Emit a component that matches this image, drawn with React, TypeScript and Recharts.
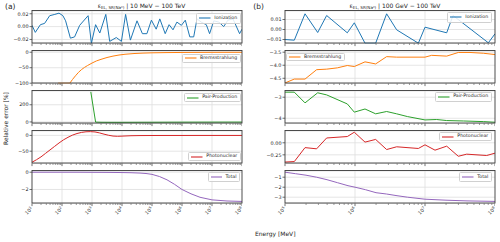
import React from 'react';
import { LineChart, Line, XAxis, YAxis, CartesianGrid, ReferenceLine } from 'recharts';

// x values are log10(Energy / MeV)
const ionA_x = [1.00,1.11,1.28,1.42,1.59,1.76,1.90,2.03,2.12,2.28,2.42,2.59,2.87,2.98,3.12,3.26,3.46,3.59,3.81,3.98,4.12,4.28,4.50,4.68,4.83,4.98,5.14,5.26,5.44,5.57,5.70,5.83,5.98,6.11,6.26,6.39,6.50,6.64,6.81,6.92,7.06,7.23,7.39,7.53,7.70,7.92,8.00];
const ionA_y = [0.002,-0.009,0.003,0.005,0.017,0.019,0.021,0.017,0.009,-0.018,-0.016,0.002,0.017,-0.026,0.003,-0.010,0.019,-0.023,-0.017,-0.023,0.019,-0.021,0.009,-0.011,-0.011,0.010,-0.004,0.012,-0.011,0.003,-0.005,0.007,0.002,0.010,-0.016,-0.016,0.012,0.007,0.003,-0.011,0.009,0.007,0.000,0.010,0.012,-0.011,-0.004];

const bremA_x = [1.87,2.0,2.13,2.26,2.35,2.45,2.55,2.65,2.75,2.85,3.0,3.15,3.3,3.5,3.7,3.9,4.1,4.4,4.7,5.0,5.5,6.0,6.5,7.0,7.5,8.0];
const bremA_y = [-100,-100,-100,-100,-88,-76,-65,-56,-49,-43,-35,-28,-23,-17,-12.5,-9,-6.5,-4.2,-2.8,-1.9,-1.1,-0.7,-0.5,-0.3,-0.2,-0.2];

const pairA_x = [2.96,3.12,3.3,3.6,4.0,4.5,5.0,5.5,6.0,6.5,7.0,7.5,8.0];
const pairA_y = [350,-2,-4,-4.5,-4.5,-4,-3.5,-3,-2.5,-2.2,-2,-1.8,-1.5];

const photoA_x = [1.0,1.15,1.3,1.45,1.6,1.75,1.9,2.05,2.2,2.35,2.5,2.65,2.8,2.95,3.1,3.25,3.4,3.55,3.7,3.85,4.0,4.3,4.6,5.0,5.5,6.0,6.5,7.0,7.5,8.0];
const photoA_y = [-85,-77,-68,-57,-46,-35,-24,-14,-6,1,6,9.5,11.5,12,11,8,4,0.5,-2,-2.8,-2.2,-1,-0.5,-0.3,-0.2,-0.2,-0.1,-0.1,-0.1,-0.1];

const totA_x = [1,1.5,2,2.5,3,3.5,4,4.3,4.6,4.8,5.0,5.25,5.5,5.75,6.0,6.3,6.6,7.0,7.5,8.0];
const totA_y = [0,0,0,0,-0.01,-0.02,-0.04,-0.06,-0.1,-0.15,-0.25,-0.5,-0.88,-1.4,-2.0,-2.5,-2.9,-3.2,-3.33,-3.38];

const ionB_x = [5.000,5.133,5.286,5.467,5.595,5.890,5.990,6.143,6.295,6.452,6.595,6.905,7.000,7.310,7.400,7.905,8.000];
const ionB_y = [-0.0100,-0.0107,0.0157,-0.0030,0.0140,-0.0033,0.0067,-0.0137,-0.0137,0.0157,-0.0003,-0.0137,0.0023,-0.0033,0.0140,-0.0133,-0.0043];

const bremB_x = [5.0,5.133,5.286,5.452,5.595,5.748,5.890,5.990,6.143,6.295,6.452,6.595,7.0,7.095,7.31,7.476,7.643,7.833,8.0];
const bremB_y = [-4.68,-4.53,-4.53,-4.17,-4.15,-4.10,-4.01,-4.05,-3.87,-3.95,-3.67,-3.69,-3.69,-3.62,-3.65,-3.51,-3.51,-3.54,-3.59];

const pairB_x = [5.0,5.133,5.286,5.467,5.595,5.890,5.990,6.143,6.295,6.452,6.595,6.748,7.0,7.167,7.31,7.548,7.833,8.0];
const pairB_y = [-2.76,-2.76,-3.27,-2.79,-2.89,-3.32,-3.71,-3.56,-3.79,-3.68,-3.79,-3.92,-4.08,-4.06,-4.11,-4.13,-4.16,-4.19];

const photoB_x = [5.0,5.133,5.286,5.452,5.595,5.890,5.990,6.143,6.295,6.452,6.595,6.905,7.0,7.143,7.31,7.476,7.595,7.881,8.0];
const photoB_y = [-0.40,-0.39,-0.10,-0.125,0.10,0.13,0.22,0.014,0.07,-0.14,-0.083,-0.118,-0.042,-0.153,-0.07,-0.28,-0.236,-0.264,-0.215];

const totB_x = [5.0,5.15,5.3,5.45,5.6,5.75,5.9,6.0,6.15,6.3,6.45,6.6,6.75,6.9,7.0,7.3,7.6,8.0];
const totB_y = [-0.5,-0.65,-0.8,-1.0,-1.25,-1.55,-1.85,-2.0,-2.25,-2.55,-2.68,-2.85,-3.0,-3.12,-3.2,-3.3,-3.37,-3.42];

const decadesA = [1,2,3,4,5,6,7,8];
const decadesB = [5,6,7,8];
const minorMantissas = [2,3,4,5,6,7,8,9];

const seriesNames = ['Ionization','Bremsstrahlung','Pair-Production','Photonuclear','Total'];
const COLORS = ['#1f77b4','#ff7f0e','#2ca02c','#d62728','#9467bd'];

const FONT = 'DejaVu Sans';
const PW = 210;
const PH = 32.5;
const YW = 32;
const PADT = 5;
const TOPS = [10.5, 50.5, 90.5, 130.5, 170.5];
const LEFTS = [32, 285];

const zip = (xs: number[], ys: number[]) => xs.map((x, i) => ({ x, y: ys[i] }));

const makeTicks = (dec: number[]) => {
  const out: number[] = [];
  dec.forEach((d, i) => {
    out.push(d);
    if (i < dec.length - 1) minorMantissas.forEach(m => out.push(d + Math.log10(m)));
  });
  return out;
};

type Spec = {
  data: { x: number; y: number }[];
  yDomain: [number, number];
  yTicks: number[];
  dec: number;
  legend: { right?: number; left?: number; top: number; h: number };
};

const specsA: Spec[] = [
  { data: zip(ionA_x, ionA_y), yDomain: [-0.0263, 0.0243], yTicks: [-0.02, 0, 0.02], dec: 2, legend: { right: 240.7, top: 12.7, h: 11 } },
  { data: zip(bremA_x, bremA_y), yDomain: [-101, 4], yTicks: [-100, -50, 0], dec: 0, legend: { right: 240.7, top: 54, h: 8.7 } },
  { data: zip(pairA_x, pairA_y), yDomain: [-18, 360], yTicks: [0, 200], dec: 0, legend: { right: 240.7, top: 93.3, h: 8.5 } },
  { data: zip(photoA_x, photoA_y), yDomain: [-89, 14], yTicks: [-50, 0], dec: 0, legend: { right: 240.7, top: 152.3, h: 8.5 } },
  { data: zip(totA_x, totA_y), yDomain: [-3.62, 0.14], yTicks: [-2, 0], dec: 0, legend: { right: 240, top: 172.3, h: 9.3 } },
];

const specsB: Spec[] = [
  { data: zip(ionB_x, ionB_y), yDomain: [-0.014, 0.0185], yTicks: [-0.01, 0, 0.01], dec: 2, legend: { right: 491.7, top: 11.7, h: 11.5 } },
  { data: zip(bremB_x, bremB_y), yDomain: [-4.70, -3.454], yTicks: [-4.5, -4.0, -3.5], dec: 1, legend: { left: 286, top: 52.7, h: 8.5 } },
  { data: zip(pairB_x, pairB_y), yDomain: [-4.25, -2.705], yTicks: [-4, -3], dec: 0, legend: { right: 491.7, top: 92, h: 9.5 } },
  { data: zip(photoB_x, photoB_y), yDomain: [-0.43, 0.245], yTicks: [-0.25, 0], dec: 2, legend: { right: 491.7, top: 132.3, h: 8.7 } },
  { data: zip(totB_x, totB_y), yDomain: [-3.63, -0.38], yTicks: [-3, -2, -1], dec: 0, legend: { right: 491.7, top: 172.3, h: 9.3 } },
];

const fmt = (dec: number) => (v: number) => v.toFixed(dec).replace('-', '\u2212');

const XTick = (props: any) => {
  const { x, y, payload, showLabel } = props;
  const v = payload.value as number;
  const major = Math.abs(v - Math.round(v)) < 1e-6;
  return (
    <g>
      <line x1={x} x2={x} y1={y} y2={y + (major ? 2.6 : 1.5)} stroke="#333" strokeWidth={major ? 0.7 : 0.5} />
      {showLabel && major && (
        <text transform={`translate(${x + 1},${y + 5.5}) rotate(-45)`} textAnchor="end" fontSize={4.9} fill="#262626" fontFamily={FONT}>
          10<tspan dy={-1.8} fontSize={3.5}>{Math.round(v)}</tspan>
        </text>
      )}
    </g>
  );
};

function Panel({ spec, side, row }: { spec: Spec; side: number; row: number }) {
  const plotLeft = LEFTS[side];
  const top = TOPS[row];
  const bottom = row === 4;
  const xAxisH = bottom ? 24 : 5;
  const decs = side === 0 ? decadesA : decadesB;
  const xDomain: [number, number] = [decs[0], decs[decs.length - 1]];
  const xTicks = makeTicks(decs);
  const gridX = decs.slice(1, -1);
  const color = COLORS[row];
  return (
    <div style={{ position: 'absolute', left: plotLeft - YW, top: top - PADT }}>
      <LineChart width={YW + PW} height={PADT + PH + xAxisH} data={spec.data} margin={{ top: PADT, right: 0, bottom: 0, left: 0 }}>
        <CartesianGrid vertical={false} stroke="#dedede" strokeWidth={0.8} />
        {gridX.map(g => (
          <ReferenceLine key={g} x={g} stroke="#dedede" strokeWidth={0.8} />
        ))}
        <XAxis
          dataKey="x"
          type="number"
          domain={xDomain}
          ticks={xTicks}
          interval={0}
          allowDataOverflow
          height={xAxisH}
          tickSize={0}
          tickMargin={0}
          tickLine={false}
          axisLine={false}
          tick={(p: any) => <XTick {...p} showLabel={bottom} />}
        />
        <YAxis
          type="number"
          domain={spec.yDomain}
          ticks={spec.yTicks}
          interval={0}
          allowDataOverflow
          width={YW}
          tickSize={2.5}
          tickMargin={1}
          axisLine={false}
          tickLine={{ stroke: '#333', strokeWidth: 0.7 }}
          tick={{ fontSize: 4.9, fill: '#262626', fontFamily: FONT }}
          tickFormatter={fmt(spec.dec)}
        />
        <Line type="linear" dataKey="y" stroke={color} strokeWidth={1} dot={false} isAnimationActive={false} />
      </LineChart>
    </div>
  );
}

function LegendBox({ spec, row }: { spec: Spec; row: number }) {
  const l = spec.legend;
  const pos: any = { top: l.top, height: l.h };
  if (l.left !== undefined) pos.left = l.left;
  else pos.right = 500 - (l.right as number);
  return (
    <div
      style={{
        position: 'absolute',
        ...pos,
        display: 'flex',
        alignItems: 'center',
        background: 'rgba(255,255,255,0.85)',
        border: '0.6px solid #d0d0d0',
        borderRadius: 1.5,
        padding: '0 2.5px 0 2px',
        boxSizing: 'border-box',
        fontFamily: FONT,
        fontSize: 4.7,
        color: '#262626',
        lineHeight: 1,
        whiteSpace: 'nowrap',
      }}
    >
      <svg width={11.5} height={4} style={{ marginRight: 3.5, display: 'block' }}>
        <line x1={0} y1={2} x2={11.5} y2={2} stroke={COLORS[row]} strokeWidth={1.1} />
      </svg>
      <span>{seriesNames[row]}</span>
    </div>
  );
}

export default function App() {
  return (
    <div style={{ position: 'absolute', left: 0, top: 0, width: 500, height: 242, background: '#fff', overflow: 'hidden' }}>
      {specsA.map((s, i) => <Panel key={'a' + i} spec={s} side={0} row={i} />)}
      {specsB.map((s, i) => <Panel key={'b' + i} spec={s} side={1} row={i} />)}
      <svg width={500} height={242} style={{ position: 'absolute', left: 0, top: 0, pointerEvents: 'none' }} fontFamily={FONT}>
        {[0, 1].map(side =>
          TOPS.map((t, r) => (
            <rect key={side + '-' + r} x={LEFTS[side]} y={t} width={PW} height={PH} fill="none" stroke="#3a3a3a" strokeWidth={0.9} />
          ))
        )}
        <text x={5} y={9} fontSize={7.5} fill="#262626">(a)</text>
        <text x={253.3} y={9} fontSize={7.5} fill="#262626">(b)</text>
        <text x={141.5} y={8.3} fontSize={6} fill="#262626" textAnchor="middle">
          ε<tspan fontSize={4.1} dy={1}>EL, SR(Na⁰)</tspan>
          <tspan dy={-1} fontSize={6}> | 10 MeV − 100 TeV</tspan>
        </text>
        <text x={395} y={8.3} fontSize={6} fill="#262626" textAnchor="middle">
          ε<tspan fontSize={4.1} dy={1}>EL, SR(Na⁰)</tspan>
          <tspan dy={-1} fontSize={6}> | 100 GeV − 100 TeV</tspan>
        </text>
        <text transform="translate(7.5,118.5) rotate(-90)" fontSize={6} fill="#262626" textAnchor="middle">Relative error [%]</text>
        <text x={255} y={236} fontSize={6} fill="#262626">Energy [MeV]</text>
      </svg>
      {specsA.map((s, i) => <LegendBox key={'la' + i} spec={s} row={i} />)}
      {specsB.map((s, i) => <LegendBox key={'lb' + i} spec={s} row={i} />)}
    </div>
  );
}
